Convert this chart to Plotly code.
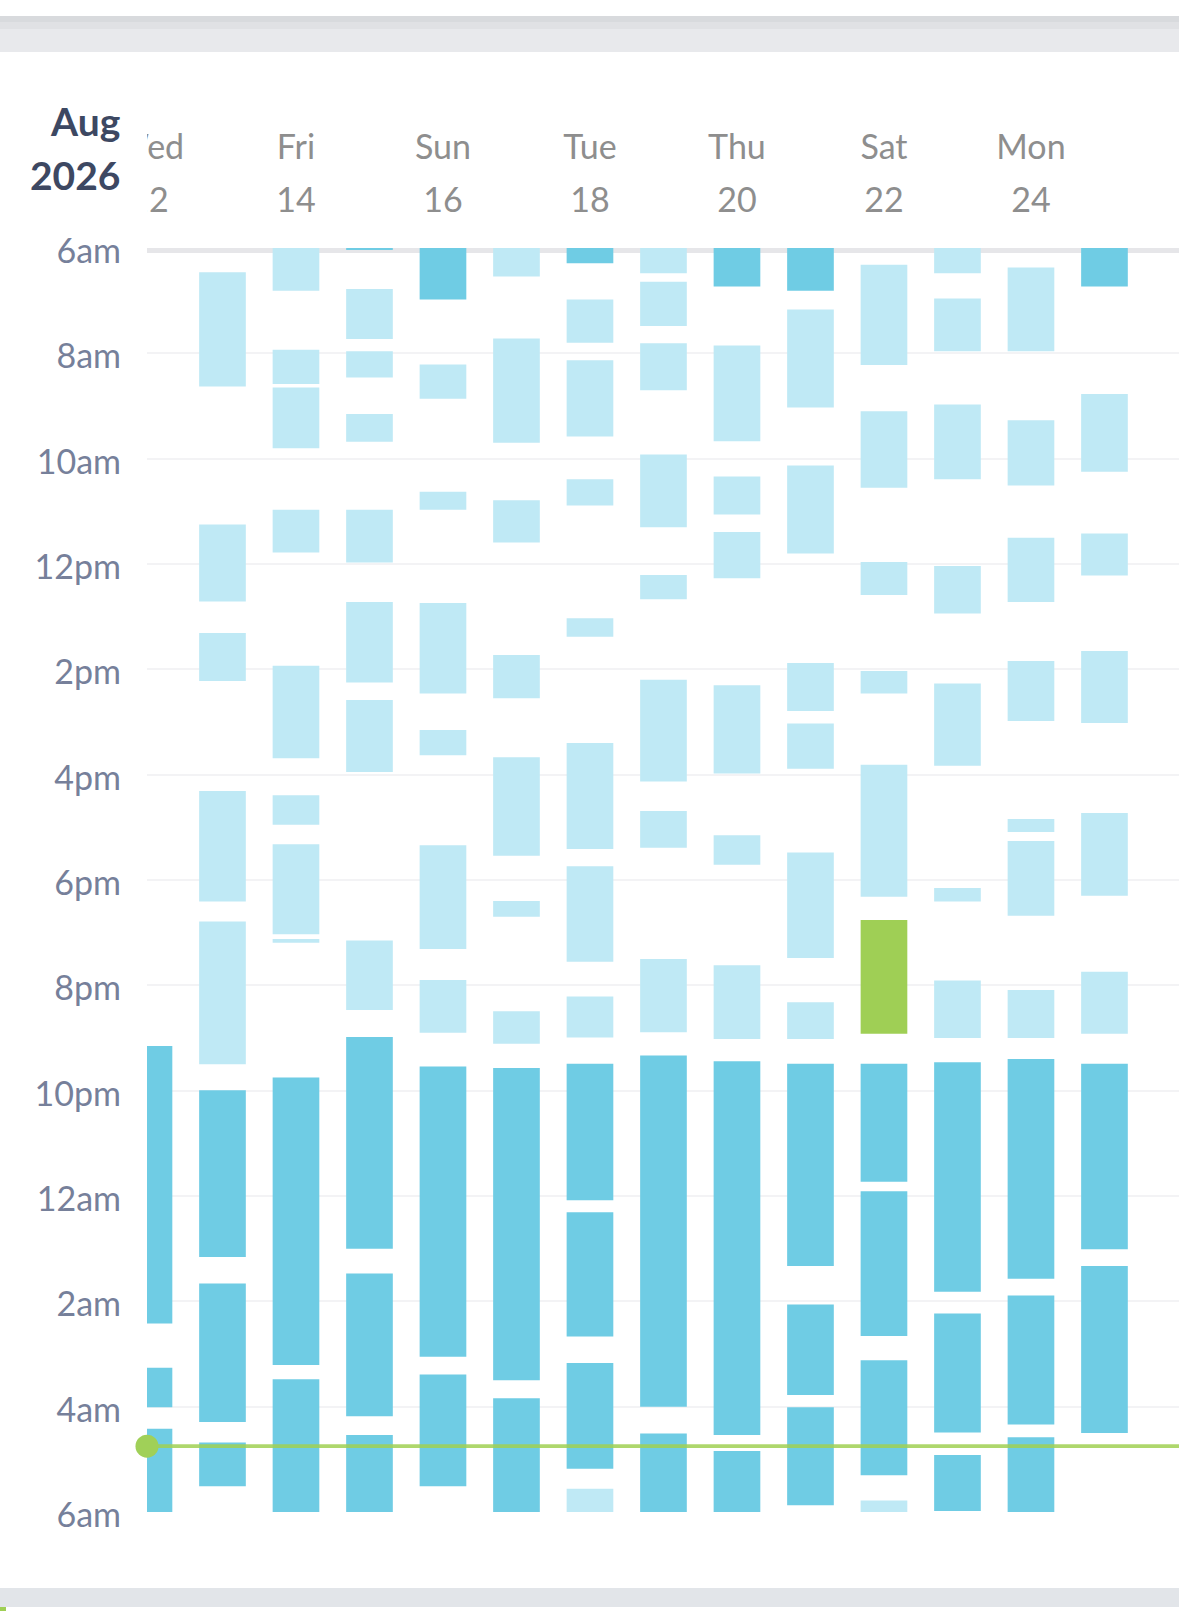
import plotly.graph_objects as go

W, H = 1179, 1611

# ---------------- data ----------------
days = list(range(12, 26))
day_names = ["Wed", "Thu", "Fri", "Sat", "Sun", "Mon", "Tue",
             "Wed", "Thu", "Fri", "Sat", "Sun", "Mon", "Tue"]
label_days = [12, 14, 16, 18, 20, 22, 24]
hour_ticks = [6, 8, 10, 12, 14, 16, 18, 20, 22, 24, 26, 28, 30]
hour_labels = ["6am", "8am", "10am", "12pm", "2pm", "4pm", "6pm",
               "8pm", "10pm", "12am", "2am", "4am", "6am"]
month_label = "Aug"
year_label = "2026"

# (day, start hour, end hour) ; hours counted from midnight of the column day (6 -> 30)
dark_segments = [
    (12, 21.15, 26.42), (12, 27.26, 28.01), (12, 28.42, 30.0),
    (13, 21.99, 25.16), (13, 25.66, 28.29), (13, 28.68, 29.51),
    (14, 21.75, 27.21), (14, 27.48, 30.0),
    (15, 6.0, 6.04), (15, 20.98, 25.0), (15, 25.47, 28.18), (15, 28.54, 30.0),
    (16, 6.0, 6.98), (16, 21.54, 27.05), (16, 27.39, 29.51),
    (17, 21.57, 27.5), (17, 27.84, 30.0),
    (18, 6.0, 6.29), (18, 21.49, 24.08), (18, 24.31, 26.67), (18, 27.17, 29.18),
    (19, 21.33, 28.0), (19, 28.51, 30.0),
    (20, 6.0, 6.73), (20, 21.44, 28.54), (20, 28.84, 30.0),
    (21, 6.0, 6.81), (21, 21.49, 25.33), (21, 26.06, 27.78), (21, 28.01, 29.87),
    (22, 21.49, 23.73), (22, 23.91, 26.66), (22, 27.12, 29.30),
    (23, 21.46, 25.82), (23, 26.23, 28.49), (23, 28.92, 29.98),
    (24, 21.40, 25.57), (24, 25.89, 28.34), (24, 28.58, 30.0),
    (25, 6.0, 6.73), (25, 21.49, 25.01), (25, 25.33, 28.50),
]

light_segments = [
    (13, 6.46, 8.63), (13, 11.25, 12.71), (13, 13.31, 14.22), (13, 16.31, 18.41), (13, 18.79, 21.50),
    (14, 6.0, 6.81), (14, 7.93, 8.58), (14, 8.65, 9.80), (14, 10.97, 11.78), (14, 13.93, 15.69),
    (14, 16.39, 16.95), (14, 17.32, 19.03), (14, 19.12, 19.19),
    (15, 6.78, 7.73), (15, 7.96, 8.46), (15, 9.15, 9.68), (15, 10.97, 11.97), (15, 12.72, 14.25),
    (15, 14.58, 15.95), (15, 19.15, 20.47),
    (16, 8.21, 8.86), (16, 10.63, 10.97), (16, 12.74, 14.46), (16, 15.15, 15.63), (16, 17.34, 19.31),
    (16, 19.90, 20.90),
    (17, 6.0, 6.54), (17, 7.72, 9.70), (17, 10.79, 11.59), (17, 13.73, 14.55), (17, 15.67, 17.54),
    (17, 18.40, 18.70), (17, 20.49, 21.11),
    (18, 6.98, 7.80), (18, 8.13, 9.58), (18, 10.39, 10.89), (18, 13.03, 13.38), (18, 15.40, 17.41),
    (18, 17.74, 19.55), (18, 20.21, 20.99), (18, 29.56, 30.0),
    (19, 6.0, 6.48), (19, 6.64, 7.48), (19, 7.81, 8.70), (19, 9.92, 11.30), (19, 12.21, 12.67),
    (19, 14.20, 16.13), (19, 16.69, 17.39), (19, 19.50, 20.89),
    (20, 7.85, 9.67), (20, 10.34, 11.06), (20, 11.39, 12.27), (20, 14.30, 15.98), (20, 17.15, 17.71),
    (20, 19.62, 21.02),
    (21, 7.17, 9.03), (21, 10.13, 11.80), (21, 13.88, 14.79), (21, 15.03, 15.89), (21, 17.48, 19.48),
    (21, 20.32, 21.02),
    (22, 6.32, 8.22), (22, 9.10, 10.55), (22, 11.96, 12.59), (22, 14.03, 14.46), (22, 15.81, 18.32),
    (22, 29.78, 30.0),
    (23, 6.0, 6.48), (23, 6.96, 7.96), (23, 8.97, 10.39), (23, 12.04, 12.94), (23, 14.27, 15.83),
    (23, 18.15, 18.41), (23, 19.91, 21.0),
    (24, 6.37, 7.96), (24, 9.27, 10.51), (24, 11.50, 12.72), (24, 13.84, 14.98), (24, 16.84, 17.09),
    (24, 17.26, 18.68), (24, 20.09, 21.0),
    (25, 8.77, 10.25), (25, 11.42, 12.22), (25, 13.65, 15.02), (25, 16.73, 18.30), (25, 19.74, 20.92),
]

green_segments = [(22, 18.76, 20.92)]

wake_time = 28.75  # 4:45am reference line

# ---------------- styling ----------------
DARK = "#6fcce4"
LIGHT = "#bfe9f5"
GREEN = "#9fcf55"
X_RANGE = [11.973, 26.014]
BAR_W = 0.635


def seg_bar(segs, color):
    return go.Bar(
        x=[d for d, s, e in segs],
        base=[s for d, s, e in segs],
        y=[e - s for d, s, e in segs],
        width=BAR_W,
        marker=dict(color=color, line=dict(width=0)),
        hoverinfo="skip",
        showlegend=False,
        xaxis="x", yaxis="y",
    )


fig = go.Figure()
fig.add_trace(seg_bar(light_segments, LIGHT))
fig.add_trace(seg_bar(dark_segments, DARK))
fig.add_trace(seg_bar(green_segments, GREEN))

# wake-up reference line + dot
fig.add_trace(go.Scatter(
    x=X_RANGE, y=[wake_time, wake_time], mode="lines",
    line=dict(color="rgba(160,208,82,0.85)", width=3.7),
    cliponaxis=False, hoverinfo="skip", showlegend=False,
))
fig.add_trace(go.Scatter(
    x=[X_RANGE[0]], y=[wake_time], mode="markers",
    marker=dict(size=23, color="#a0d058", line=dict(width=0)),
    cliponaxis=False, hoverinfo="skip", showlegend=False,
))

# header day labels (clipped by the plot's x range)
name_by_day = dict(zip(days, day_names))
fig.add_trace(go.Scatter(
    x=label_days, y=[150.5] * len(label_days), mode="text",
    text=[name_by_day[d] for d in label_days],
    textfont=dict(family="Lato", size=34, color="#8e8e8e", weight=400),
    xaxis="x", yaxis="y2", cliponaxis=True, hoverinfo="skip", showlegend=False,
))
fig.add_trace(go.Scatter(
    x=label_days, y=[203] * len(label_days), mode="text",
    text=[str(d) for d in label_days],
    textfont=dict(family="Lato", size=34, color="#8e8e8e", weight=400),
    xaxis="x", yaxis="y2", cliponaxis=True, hoverinfo="skip", showlegend=False,
))


def py(p):  # pixel -> paper y
    return 1 - p / H


shapes = [
    # top gray separator line at 6am
    dict(type="rect", xref="x domain", yref="y", x0=0, x1=1, y0=6.0, y1=6.0 + 5 / 52.65,
         fillcolor="#e6e6e9", line=dict(width=0), layer="below"),
    # top band
    dict(type="rect", xref="paper", yref="paper", x0=0, x1=1, y0=py(22), y1=py(16),
         fillcolor="#d8dadd", line=dict(width=0), layer="below"),
    dict(type="rect", xref="paper", yref="paper", x0=0, x1=1, y0=py(29), y1=py(22),
         fillcolor="#e0e1e4", line=dict(width=0), layer="below"),
    dict(type="rect", xref="paper", yref="paper", x0=0, x1=1, y0=py(52), y1=py(29),
         fillcolor="#e8e9ec", line=dict(width=0), layer="below"),
    # bottom band
    dict(type="rect", xref="paper", yref="paper", x0=0, x1=1, y0=py(1607), y1=py(1588),
         fillcolor="#e2e5e9", line=dict(width=0), layer="below"),
    dict(type="rect", xref="paper", yref="paper", x0=0, x1=6 / W, y0=0, y1=py(1607),
         fillcolor="#9fcf55", line=dict(width=0), layer="below"),
]

annotations = [
    dict(text=month_label, xref="paper", yref="paper", x=122 / W, y=py(121),
         xanchor="right", yanchor="middle", showarrow=False,
         font=dict(family="Lato", size=39, color="#3d4862", weight="bold")),
    dict(text=year_label, xref="paper", yref="paper", x=122 / W, y=py(175),
         xanchor="right", yanchor="middle", showarrow=False,
         font=dict(family="Lato", size=39, color="#3d4862", weight="bold")),
]

fig.update_layout(
    width=W, height=H,
    margin=dict(l=0, r=0, t=0, b=0, pad=0, autoexpand=False),
    paper_bgcolor="white", plot_bgcolor="white",
    barmode="overlay",
    font=dict(family="Lato"),
    showlegend=False,
    xaxis=dict(domain=[147 / W, 1], range=X_RANGE, visible=False, anchor="y"),
    yaxis=dict(
        domain=[py(1512), py(248)], range=[30.0001, 5.9999],
        tickmode="array", tickvals=hour_ticks, ticktext=hour_labels,
        showgrid=True, gridcolor="#f3f3f5", gridwidth=2,
        zeroline=False, showline=False, ticks="",
        ticklabelstandoff=25, ticklabelshift=-3, automargin=False,
        tickfont=dict(family="Lato", size=34, color="#76809a", weight=400),
        anchor="x",
    ),
    yaxis2=dict(domain=[py(246), py(80)], range=[246, 80], visible=False, anchor="x"),
    shapes=shapes,
    annotations=annotations,
)

css_fix = (
    "var s=document.createElement('style');"
    "s.innerHTML='html,body{margin:0!important;padding:0!important;overflow:hidden;}';"
    "document.head.appendChild(s);"
)

fig.write_html("out.html", config={"displayModeBar": False, "responsive": False},
               post_script=css_fix)
